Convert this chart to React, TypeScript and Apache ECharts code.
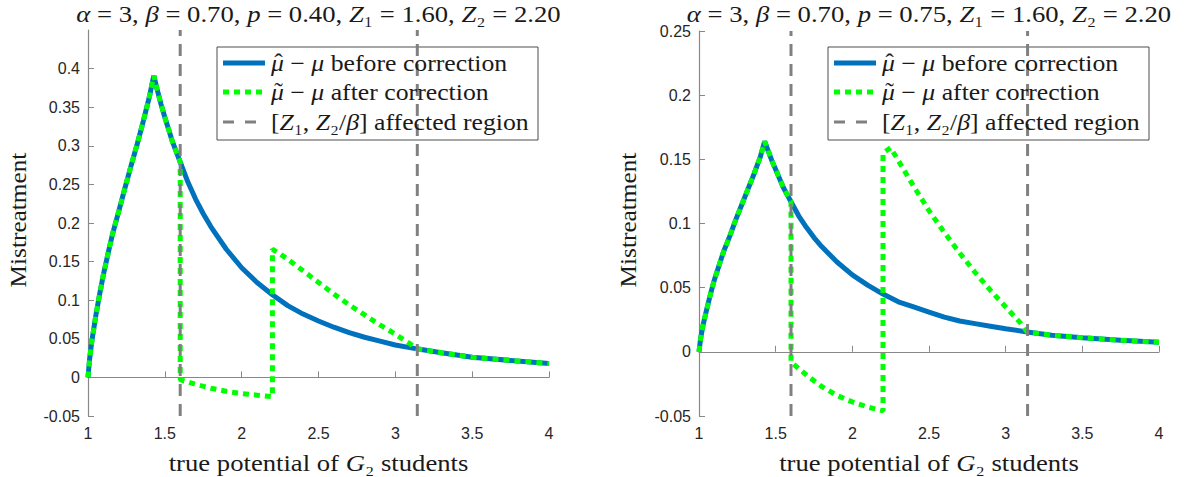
import React, { useEffect, useRef } from "react";
import * as echarts from "echarts";

// ---- data ----
const xTicks = [1, 1.5, 2, 2.5, 3, 3.5, 4];
const leftYTicks = [-0.05, 0, 0.05, 0.1, 0.15, 0.2, 0.25, 0.3, 0.35, 0.4];
const rightYTicks = [-0.05, 0, 0.05, 0.1, 0.15, 0.2, 0.25];

const leftTitle = "{i|α} = 3, {i|β} = 0.70, {i|p} = 0.40, {i|Z}₁ = 1.60, {i|Z}₂ = 2.20";
const rightTitle = "{i|α} = 3, {i|β} = 0.70, {i|p} = 0.75, {i|Z}₁ = 1.60, {i|Z}₂ = 2.20";
const legendTexts = [
  "{i|μ} − {i|μ} before correction",
  "{i|μ} − {i|μ} after correction",
  "[{i|Z}₁, {i|Z}₂/{i|β}] affected region",
];
const legendAccents = ["ˆ", "˜", ""];
const xName = "true potential of {i|G}₂ students";
const yName = "Mistreatment";

const regionBounds = [1.6, 3.1429];

const blueX = [1, 1.01, 1.025, 1.05, 1.075, 1.1, 1.13, 1.16, 1.2, 1.24, 1.28, 1.32, 1.36, 1.4, 1.428, 1.45, 1.475, 1.5, 1.55, 1.6, 1.65, 1.7, 1.75, 1.8, 1.9, 2.0, 2.1, 2.2, 2.3, 2.4, 2.5, 2.6, 2.7, 2.8, 2.9, 3.0, 3.14, 3.3, 3.5, 3.75, 4.0];
const leftBlueY = [0, 0.023, 0.047, 0.079, 0.107, 0.133, 0.16, 0.186, 0.215, 0.245, 0.274, 0.302, 0.332, 0.364, 0.391, 0.373, 0.354, 0.337, 0.305, 0.279, 0.253, 0.231, 0.212, 0.195, 0.166, 0.142, 0.123, 0.107, 0.093, 0.082, 0.073, 0.065, 0.058, 0.052, 0.047, 0.042, 0.037, 0.032, 0.026, 0.022, 0.018];
const rightBlueY = [0, 0.01, 0.02, 0.033, 0.045, 0.056, 0.067, 0.078, 0.09, 0.103, 0.115, 0.127, 0.139, 0.152, 0.164, 0.157, 0.149, 0.142, 0.128, 0.117, 0.106, 0.097, 0.089, 0.082, 0.07, 0.06, 0.052, 0.045, 0.039, 0.035, 0.031, 0.027, 0.024, 0.022, 0.02, 0.018, 0.0155, 0.013, 0.011, 0.009, 0.0075];

const greenX = [1, 1.01, 1.025, 1.05, 1.075, 1.1, 1.13, 1.16, 1.2, 1.24, 1.28, 1.32, 1.36, 1.4, 1.428, 1.45, 1.475, 1.5, 1.55, 1.6, 1.6, 1.7, 1.8, 1.9, 2.0, 2.1, 2.2, 2.2, 2.25, 2.3, 2.4, 2.5, 2.6, 2.7, 2.8, 2.9, 3.0, 3.1, 3.14, 3.3, 3.5, 3.75, 4.0];
const leftGreenY = [0, 0.023, 0.047, 0.079, 0.107, 0.133, 0.16, 0.186, 0.215, 0.245, 0.274, 0.302, 0.332, 0.364, 0.391, 0.373, 0.354, 0.337, 0.305, 0.279, -0.003, -0.009, -0.014, -0.018, -0.021, -0.023, -0.025, 0.166, 0.16, 0.153, 0.138, 0.123, 0.108, 0.094, 0.081, 0.068, 0.056, 0.043, 0.037, 0.032, 0.026, 0.022, 0.018];
const rightGreenY = [0, 0.01, 0.02, 0.033, 0.045, 0.056, 0.067, 0.078, 0.09, 0.103, 0.115, 0.127, 0.139, 0.152, 0.164, 0.157, 0.149, 0.142, 0.128, 0.117, -0.008, -0.018, -0.027, -0.034, -0.039, -0.043, -0.046, 0.155, 0.159, 0.149, 0.129, 0.11, 0.093, 0.077, 0.062, 0.048, 0.035, 0.022, 0.0155, 0.013, 0.011, 0.009, 0.0075];

// ---- styles ----
const BLUE = "#0072BD";
const GREEN = "#00FF00";
const GRAY = "#808080";
const SERIF = "'Liberation Serif', 'DejaVu Serif', serif";
const SANS = "'Liberation Sans', Arial, sans-serif";
const SERIF_SIZE = 23;
const WIDEN = 1.16;
const LEGEND_WIDEN = 1.12;

const pairs = (xs: number[], ys: number[]) => xs.map((x, i) => [x, ys[i]]);

const richStyles = {
  n: { fontFamily: SERIF, fontSize: SERIF_SIZE, fill: "#1a1a1a" },
  i: { fontFamily: SERIF, fontSize: SERIF_SIZE, fontStyle: "italic", fill: "#1a1a1a" },
};

function serifText(text: string, x: number, y: number, align: string, extra: any = {}) {
  const parts = text.split(/(\{i\|[^}]*\})/g).filter((s) => s.length > 0);
  const rich = parts.map((p) => (p.startsWith("{i|") ? p : `{n|${p}}`)).join("");
  return {
    type: "text",
    x,
    y,
    scaleX: WIDEN,
    ...extra,
    style: {
      text: rich,
      rich: richStyles,
      fontFamily: SERIF,
      fontSize: SERIF_SIZE,
      fill: "#1a1a1a",
      align,
      verticalAlign: "middle",
    },
    z: 100,
  };
}

function legendGroup(x: number, y: number) {
  const rows = [16, 45, 75];
  const children: any[] = [
    {
      type: "rect",
      shape: { x: 0, y: 0, width: 321, height: 93 },
      style: { fill: "#ffffff", stroke: "#4d4d4d", lineWidth: 1 },
    },
    {
      type: "line",
      shape: { x1: 6, y1: rows[0], x2: 48, y2: rows[0] },
      style: { stroke: BLUE, lineWidth: 5 },
    },
    {
      type: "line",
      shape: { x1: 6, y1: rows[1], x2: 48, y2: rows[1] },
      style: { stroke: GREEN, lineWidth: 5, lineDash: [6, 5] },
    },
    {
      type: "line",
      shape: { x1: 6, y1: rows[2], x2: 48, y2: rows[2] },
      style: { stroke: GRAY, lineWidth: 3, lineDash: [11, 11] },
    },
  ];
  legendTexts.forEach((t, k) => {
    children.push(serifText(t, 54, rows[k], "left", { scaleX: LEGEND_WIDEN }));
    if (legendAccents[k]) {
      children.push({
        type: "text",
        x: 61.5,
        y: rows[k] - 1,
        scaleX: LEGEND_WIDEN,
        style: {
          text: legendAccents[k],
          fontFamily: SERIF,
          fontSize: SERIF_SIZE,
          fill: "#1a1a1a",
          align: "center",
          verticalAlign: "middle",
        },
        z: 101,
      });
    }
  });
  return { type: "group", x, y, z: 100, children };
}

const grids = [
  { left: 88, top: 30, width: 461, height: 386 },
  { left: 699, top: 31, width: 460, height: 385 },
];

function xAxisFor(gridIndex: number) {
  return {
    type: "value",
    gridIndex,
    min: 1,
    max: 4,
    interval: 0.5,
    axisLine: { show: true, lineStyle: { color: "#888", width: 1.2 } },
    axisTick: { show: true, inside: true, length: 6, lineStyle: { color: "#888" }, customValues: xTicks },
    axisLabel: {
      color: "#262626",
      fontFamily: SANS,
      fontSize: 16,
      margin: 9,
      customValues: xTicks,
      formatter: (v: number) => String(+v.toFixed(2)),
    },
    splitLine: { show: false },
  };
}

function yAxisFor(gridIndex: number, max: number, ticks: number[]) {
  return {
    type: "value",
    gridIndex,
    min: -0.05,
    max,
    interval: 0.05,
    axisLine: { show: true, lineStyle: { color: "#888", width: 1.2 } },
    axisTick: { show: true, inside: true, length: 6, lineStyle: { color: "#888" }, customValues: ticks },
    axisLabel: {
      color: "#262626",
      fontFamily: SANS,
      fontSize: 16,
      margin: 8,
      customValues: ticks,
      formatter: (v: number) => String(+v.toFixed(2)),
    },
    splitLine: { show: false },
  };
}

function seriesFor(idx: number, blueY: number[], greenY: number[], yMin: number, yMax: number) {
  const base = { type: "line", xAxisIndex: idx, yAxisIndex: idx, showSymbol: false, symbol: "none", silent: true };
  const out: any[] = [
    { ...base, data: pairs(blueX, blueY), lineStyle: { color: BLUE, width: 5 }, z: 2 },
    { ...base, data: pairs(greenX, greenY), lineStyle: { color: GREEN, width: 5, type: [6, 5], cap: "butt" }, z: 3 },
  ];
  regionBounds.forEach((b) => {
    out.push({
      ...base,
      data: [
        [b, yMin],
        [b, yMax],
      ],
      lineStyle: { color: GRAY, width: 3, type: [12, 8] },
      z: 4,
    });
  });
  return out;
}

export default function App() {
  const ref = useRef<HTMLDivElement>(null);
  useEffect(() => {
    if (!ref.current) return;
    const chart = echarts.init(ref.current, undefined, { renderer: "svg" });
    const cx0 = grids[0].left + grids[0].width / 2;
    const cx1 = grids[1].left + grids[1].width / 2;
    chart.setOption({
      animation: false,
      backgroundColor: "#ffffff",
      grid: grids,
      xAxis: [xAxisFor(0), xAxisFor(1)],
      yAxis: [yAxisFor(0, 0.45, leftYTicks), yAxisFor(1, 0.25, rightYTicks)],
      series: [...seriesFor(0, leftBlueY, leftGreenY, -0.05, 0.45), ...seriesFor(1, rightBlueY, rightGreenY, -0.05, 0.25)],
      graphic: [
        serifText(leftTitle, cx0, 14, "center"),
        serifText(rightTitle, cx1, 14, "center"),
        serifText(xName, cx0, 463, "center"),
        serifText(xName, cx1, 463, "center"),
        serifText(yName, 18, 220, "center", { rotation: Math.PI / 2, scaleX: 1.1 }),
        serifText(yName, 628, 220, "center", { rotation: Math.PI / 2, scaleX: 1.1 }),
        legendGroup(217, 47),
        legendGroup(828, 47),
      ],
    });
    return () => chart.dispose();
  }, []);
  return <div ref={ref} style={{ position: "fixed", left: 0, top: 0, width: 1192, height: 477 }} />;
}
